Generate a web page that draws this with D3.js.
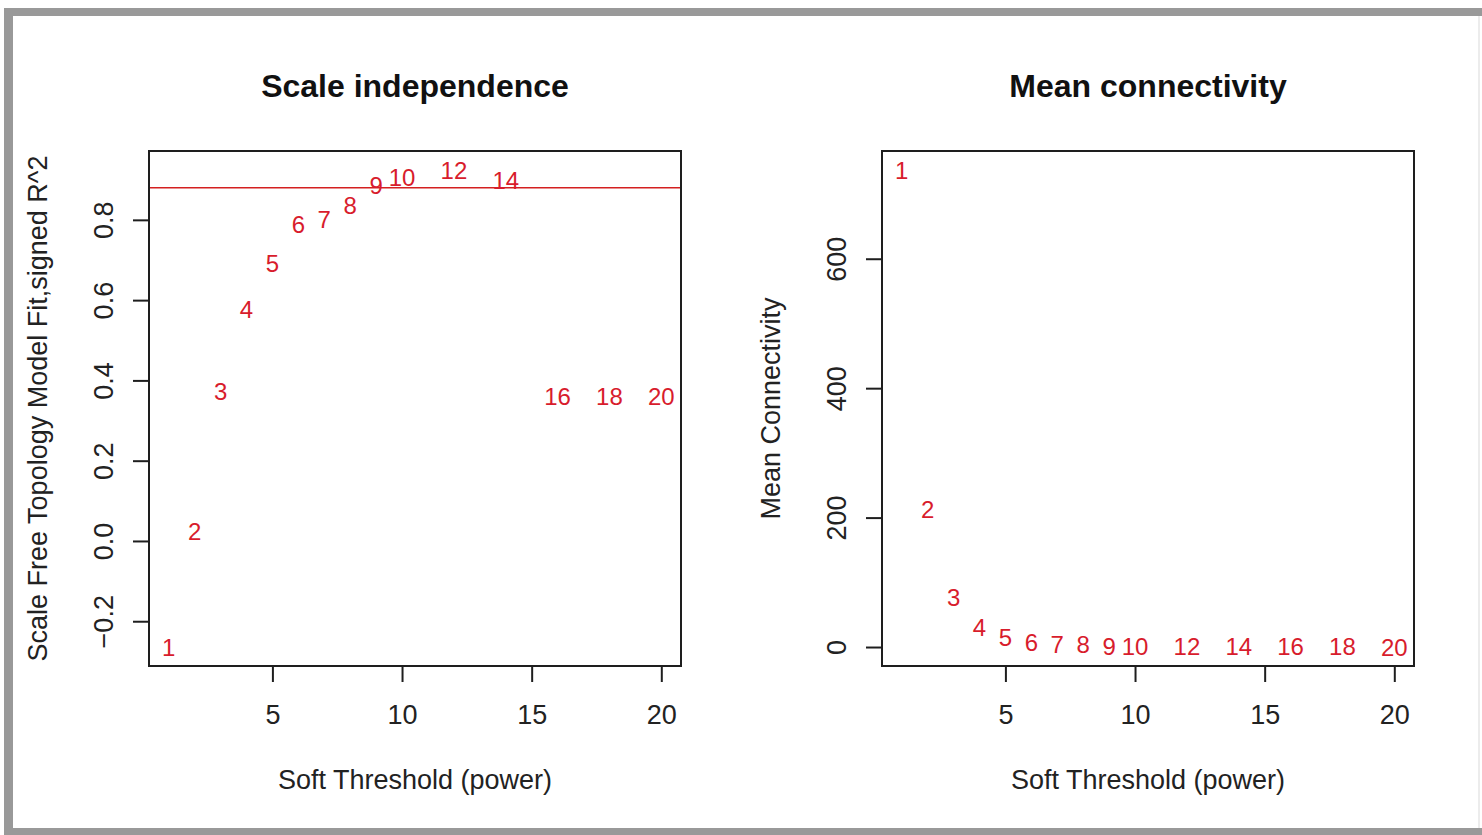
<!DOCTYPE html>
<html>
<head>
<meta charset="utf-8">
<script src="https://cdn.jsdelivr.net/npm/d3@7"></script>
<style>
  html, body { margin: 0; padding: 0; background: #fff; }
  svg { display: block; }
  text { font-family: "Liberation Sans", Arial, sans-serif; }
</style>
</head>
<body>
<svg id="chart" width="1482" height="835"></svg>
<script>
// Soft-threshold powers tested
const powers = [1, 2, 3, 4, 5, 6, 7, 8, 9, 10, 12, 14, 16, 18, 20];
// Scale-free topology fit index (signed R^2) for each power
const sftFit = [-0.264, 0.025, 0.373, 0.578, 0.691, 0.789, 0.802, 0.837, 0.885, 0.906, 0.924, 0.899, 0.360, 0.361, 0.360];
// Mean connectivity for each power
const meanK = [737, 212, 77, 31, 15, 6.5, 4.8, 3.6, 1.5, 1.0, 0.6, 0.4, 0.3, 0.2, 0.15];
// R^2 cut-off line
const fitCutoff = 0.88;

const xTicks = [5, 10, 15, 20];
const fitTicks = [-0.2, 0.0, 0.2, 0.4, 0.6, 0.8];
const kTicks = [0, 200, 400, 600];

const svg = d3.select("#chart");
const W = 1482, H = 835;
const boxTop = 151, boxBottom = 666;
const panels = [
  { left: 149, right: 681, title: "Scale independence", ylab: "Scale Free Topology Model Fit,signed R^2",
    values: sftFit, ticks: fitTicks, fmt: d3.format(".1f"), cutoff: fitCutoff },
  { left: 882, right: 1414, title: "Mean connectivity", ylab: "Mean Connectivity",
    values: meanK, ticks: kTicks, fmt: d3.format("d"), cutoff: null }
];

const ink = "#1e1e1e";
const red = "#d81c2c";

// page frame
svg.append("rect").attr("x", 0).attr("y", 0).attr("width", W).attr("height", H).attr("fill", "#fff");
svg.append("rect").attr("x", 4).attr("y", 8).attr("width", W - 4).attr("height", 8).attr("fill", "#999");
svg.append("rect").attr("x", 4).attr("y", 8).attr("width", 9).attr("height", H - 8).attr("fill", "#999");
svg.append("rect").attr("x", 4).attr("y", 828).attr("width", W - 4).attr("height", 7).attr("fill", "#999");
svg.append("rect").attr("x", 1478).attr("y", 16).attr("width", 2).attr("height", 812).attr("fill", "#ececec");

// R-style 4% axis padding
function padded(ext) {
  const p = (ext[1] - ext[0]) * 0.04;
  return [ext[0] - p, ext[1] + p];
}

panels.forEach(pn => {
  const x = d3.scaleLinear().domain(padded(d3.extent(powers))).range([pn.left, pn.right]);
  const y = d3.scaleLinear().domain(padded(d3.extent(pn.values))).range([boxBottom, boxTop]);
  const g = svg.append("g");
  const cx = (pn.left + pn.right) / 2;

  // title
  g.append("text").attr("x", cx).attr("y", 97).attr("text-anchor", "middle")
    .attr("font-size", 32).attr("font-weight", "bold").attr("fill", "#111").text(pn.title);

  // cut-off line
  if (pn.cutoff !== null) {
    g.append("line").attr("x1", pn.left).attr("x2", pn.right)
      .attr("y1", y(pn.cutoff)).attr("y2", y(pn.cutoff))
      .attr("stroke", "#d42020").attr("stroke-width", 1.6);
  }

  // point labels
  g.selectAll("text.pt").data(powers).join("text")
    .attr("class", "pt")
    .attr("x", d => x(d))
    .attr("y", (d, i) => y(pn.values[i]) + 8.6)
    .attr("text-anchor", "middle")
    .attr("font-size", 24)
    .attr("fill", red)
    .text(d => d);

  // x axis
  const xa = g.append("g").attr("transform", `translate(0,${boxBottom})`)
    .call(d3.axisBottom(x).tickValues(xTicks).tickSize(16).tickPadding(23).tickFormat(d3.format("d")));
  xa.select(".domain").remove();
  xa.selectAll("line").attr("stroke", ink).attr("stroke-width", 2);
  xa.selectAll("text").attr("font-size", 27).attr("fill", "#222").attr("font-family", "Liberation Sans, Arial, sans-serif");

  // y axis
  const ya = g.append("g").attr("transform", `translate(${pn.left},0)`)
    .call(d3.axisLeft(y).tickValues(pn.ticks).tickSize(16).tickFormat(pn.fmt));
  ya.select(".domain").remove();
  ya.selectAll("line").attr("stroke", ink).attr("stroke-width", 2);
  ya.selectAll("text")
    .attr("x", 0).attr("y", 0).attr("dy", null)
    .attr("transform", "translate(-36,0) rotate(-90)")
    .attr("text-anchor", "middle")
    .attr("font-size", 27).attr("fill", "#222")
    .attr("font-family", "Liberation Sans, Arial, sans-serif");

  // box
  g.append("rect").attr("x", pn.left).attr("y", boxTop)
    .attr("width", pn.right - pn.left).attr("height", boxBottom - boxTop)
    .attr("fill", "none").attr("stroke", ink).attr("stroke-width", 2);

  // axis titles
  g.append("text").attr("x", cx).attr("y", boxBottom + 123).attr("text-anchor", "middle")
    .attr("font-size", 27).attr("fill", "#222").text("Soft Threshold (power)");
  g.append("text")
    .attr("transform", `translate(${pn.left - 102},${(boxTop + boxBottom) / 2}) rotate(-90)`)
    .attr("text-anchor", "middle").attr("font-size", 27).attr("fill", "#222").text(pn.ylab);
});
</script>
</body>
</html>
